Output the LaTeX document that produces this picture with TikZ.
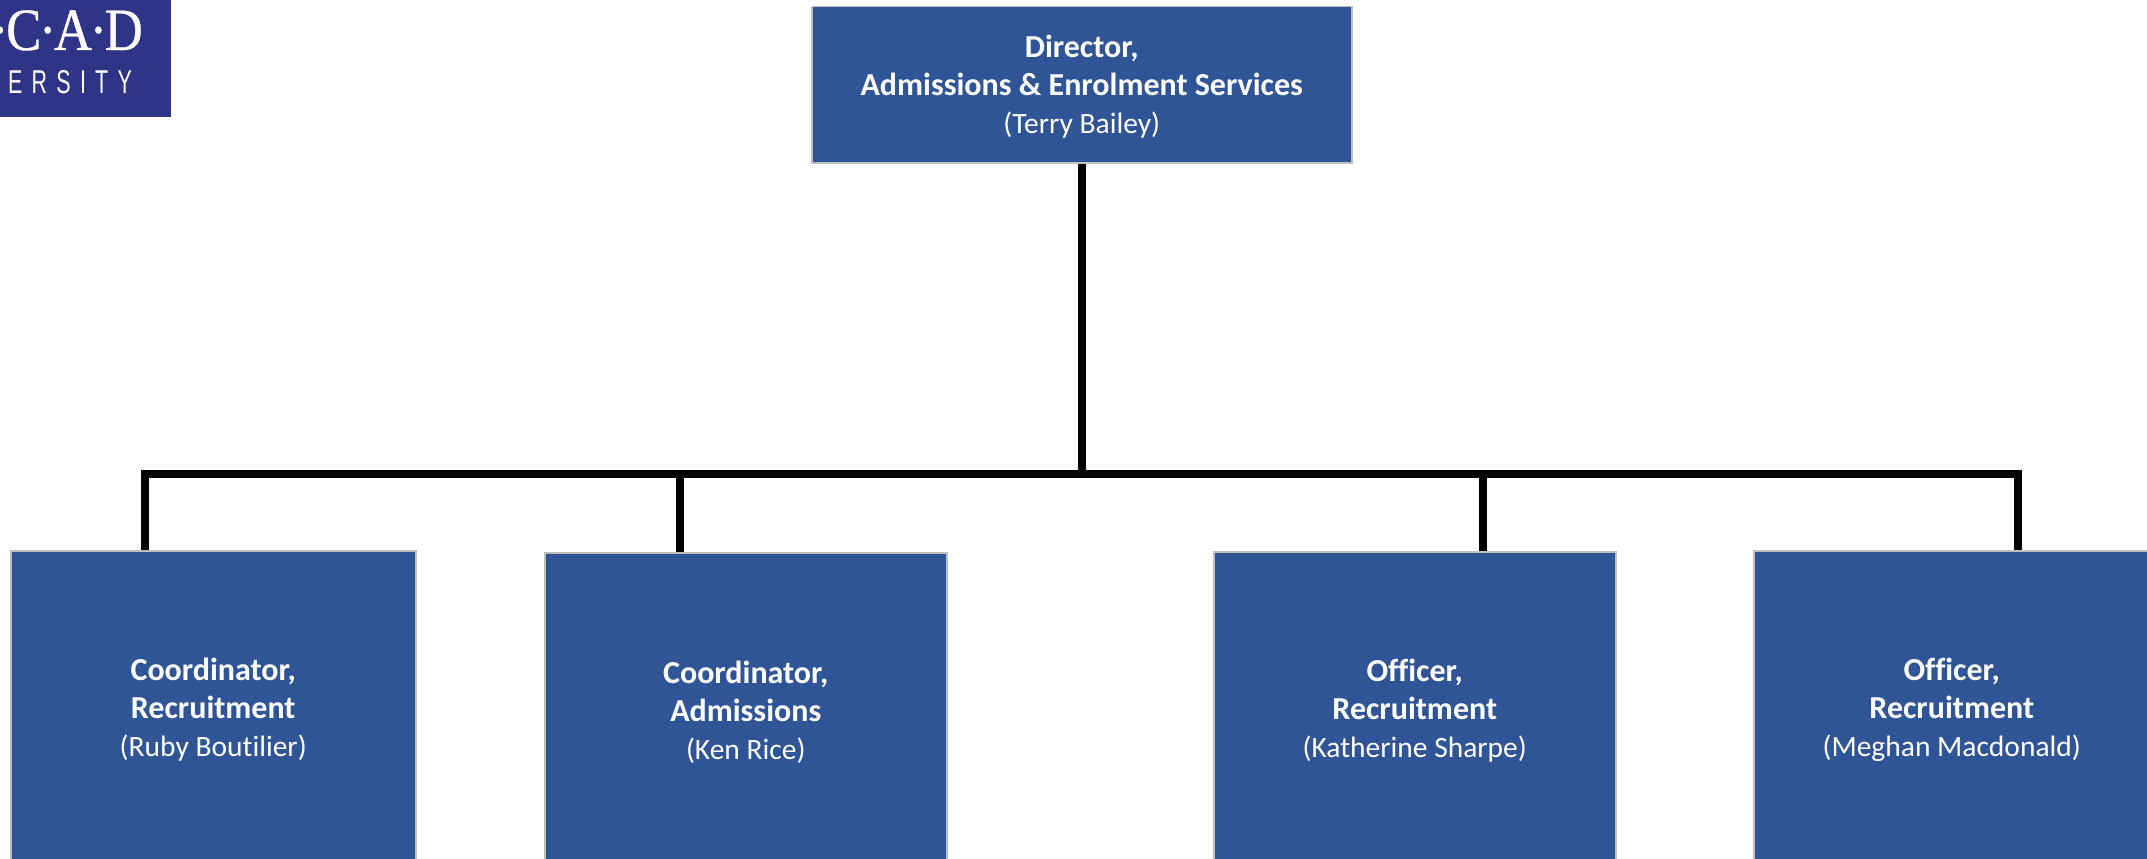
\documentclass[tikz,border=0pt]{standalone}
\usepackage{fontspec}
\setmainfont[RawFeature={-liga;-clig}]{Carlito}
\newfontfamily\logoserif[FakeStretch=0.88,FakeBold=0.5]{Liberation Serif}
\newfontfamily\logosans[FakeStretch=0.65,LetterSpace=28]{Liberation Sans}
\definecolor{boxblue}{HTML}{2F5597}
\definecolor{boxedge}{HTML}{BFBFBF}
\definecolor{logoblue}{HTML}{2E3586}
\newcommand{\rolefont}{\fontsize{32}{38}\selectfont\bfseries}
\newcommand{\namefont}{\fontsize{29.5}{38}\selectfont\mdseries}
\newcommand{\ldot}{\kern-2.5pt·\kern-2.5pt}
\newcommand{\topstrut}{\rule{0pt}{27pt}}
\tikzset{
  orgbox/.style={draw=boxedge,line width=1.5pt,fill=boxblue,text=white,align=center,inner sep=0pt,anchor=north west,font=\rolefont},
  conn/.style={draw=black,line width=8pt,line cap=butt,line join=miter},
}
\begin{document}
\begin{tikzpicture}[x=1pt,y=-1pt]
\useasboundingbox (0,0) rectangle (2147,859);
\fill[white] (0,0) rectangle (2147,859);
% logo
\begin{scope}
\clip (0,0) rectangle (171,117);
\fill[logoblue] (0,0) rectangle (171,117);
\node[text=white,anchor=base east,inner sep=0pt,font=\logoserif\fontsize{60}{60}\selectfont] (logotop) at (143,50) {\ldot C\ldot A\ldot D};
\node[text=white,anchor=base west,inner sep=0pt,font=\logosans\fontsize{33}{33}\selectfont] (logobottom) at (8,93) {ERSITY};
\end{scope}
% boxes
\node[orgbox,minimum width=540pt,minimum height=156pt] (dir) at (811,6) {\topstrut Director,\\Admissions \& Enrolment Services\\\namefont (Terry Bailey)};
\node[orgbox,minimum width=405pt,minimum height=314pt] (c1) at (10,550) {\topstrut Coordinator,\\Recruitment\\\namefont (Ruby Boutilier)};
\node[orgbox,minimum width=402pt,minimum height=314pt] (c2) at (544,552) {\topstrut Coordinator,\\Admissions\\\namefont (Ken Rice)};
\node[orgbox,minimum width=402pt,minimum height=314pt] (o1) at (1213,551) {\topstrut Officer,\\Recruitment\\\namefont (Katherine Sharpe)};
\node[orgbox,minimum width=396pt,minimum height=314pt] (o2) at (1753,550) {\topstrut Officer,\\Recruitment\\\namefont (Meghan Macdonald)};
% connectors
\coordinate (bus) at (1082,474);
\coordinate (t1) at (145,550);
\coordinate (t2) at (680,552);
\coordinate (t3) at (1483,551);
\coordinate (t4) at (2018,550);
\draw[conn] (dir.south -| bus) -- (bus);
\draw[conn] (t1) |- (bus);
\draw[conn] (t4) |- (bus);
\draw[conn] (t2) -- (t2 |- bus);
\draw[conn] (t3) -- (t3 |- bus);
\end{tikzpicture}
\end{document}
